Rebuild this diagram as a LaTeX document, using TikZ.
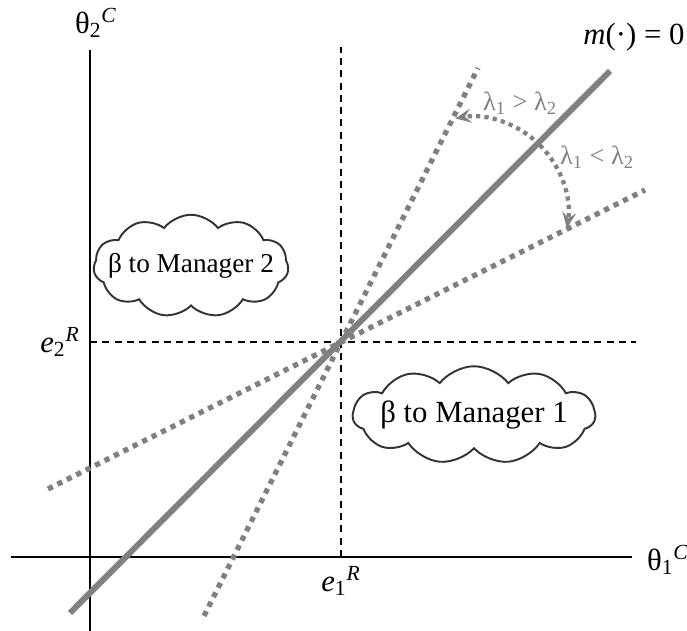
\documentclass[tikz,border=0pt]{standalone}
\usepackage{fontspec}
\setmainfont{Liberation Serif}
\usetikzlibrary{arrows.meta,positioning,calc,shapes.symbols}
\begin{document}
\begin{tikzpicture}[every node/.style={font=\fontsize{17.5}{21}\selectfont},
 ax/.style={line width=1pt},
 ref/.style={line width=0.8pt,dash pattern=on 4pt off 3pt},
 mline/.style={draw=gray,line width=3.4pt},
 dline/.style={draw=gray,line width=3pt,dash pattern=on 3pt off 3pt},
 turn/.style={draw=gray,line width=2.4pt,dash pattern=on 2.4pt off 2.4pt,-{Stealth[length=9pt,width=8pt,inset=3.5pt]}},
 lam/.style={text=gray,font=\fontsize{15}{18}\selectfont},
 bubble/.style={cloud,draw=black!80,line width=1.1pt,cloud puffs=11,cloud puff arc=105,cloud ignores aspect,inner sep=0pt}]
\useasboundingbox (-1.8,-1.48) rectangle (11.94,11.14);
% axes and reference levels
\coordinate (O) at (0,0);
\coordinate (E) at (5.02,4.3);
\coordinate (xl) at (-1.58,0); \coordinate (xr) at (10.84,0);
\coordinate (yb) at (0,-1.5); \coordinate (yt) at (0,10.14);
\coordinate (e1t) at (5.02,10.2); \coordinate (e2r) at (10.92,4.3);
\draw[ax] (xl)--(xr); \draw[ax] (yb)--(yt);
\draw[ref] (E|-O)--(e1t); \draw[ref] (E-|O)--(e2r);
% the three lines through E
\coordinate (s0) at (2.28,-1.18); \coordinate (s1) at (7.76,9.78);
\coordinate (f0) at (-0.84,1.36); \coordinate (f1) at (11.1,7.34);
\coordinate (m0) at (-0.4,-1.12); \coordinate (m1) at (10.4,9.72);
\draw[dline] (s0)--(s1); \draw[dline] (f0)--(f1);
\draw[mline] (m0)--(m1);
% rotation arrows
\coordinate (pv) at (7.64,6.88);
\coordinate (st) at ($(pv)+(45:1.92)$);
\draw[turn] (st) arc[start angle=45,end angle=100,radius=1.92];
\draw[turn] (st) arc[start angle=45,end angle=-9,radius=1.92];
% labels
\node (t2) at (0.12,10.68) {θ\textsubscript{2}\textsuperscript{\textit{C}}};
\node (t1) at (11.56,-0.06) {θ\textsubscript{1}\textsuperscript{\textit{C}}};
\node (e1) at (5.02,-0.48) {\textit{e}\textsubscript{1}\textsuperscript{\textit{R}}};
\node (e2) at (-0.6,4.3) {\textit{e}\textsubscript{2}\textsuperscript{\textit{R}}};
\node (mz) at (10.88,10.4) {\textit{m}(·) = 0};
\node[lam] (gt) at (8.6,9.08) {λ\textsubscript{1} > λ\textsubscript{2}};
\node[lam] (lt) at (10.14,8.0) {λ\textsubscript{1} < λ\textsubscript{2}};
\node[bubble,minimum width=3.9cm,minimum height=2.05cm,
 label={[font=\fontsize{15.5}{18}\selectfont]center:β to Manager 2}] (c2) at (2.02,5.82) {};
\node[bubble,minimum width=4.85cm,minimum height=1.95cm,
 label=center:β to Manager 1] (c1) at (7.68,2.84) {};
\end{tikzpicture}
\end{document}
